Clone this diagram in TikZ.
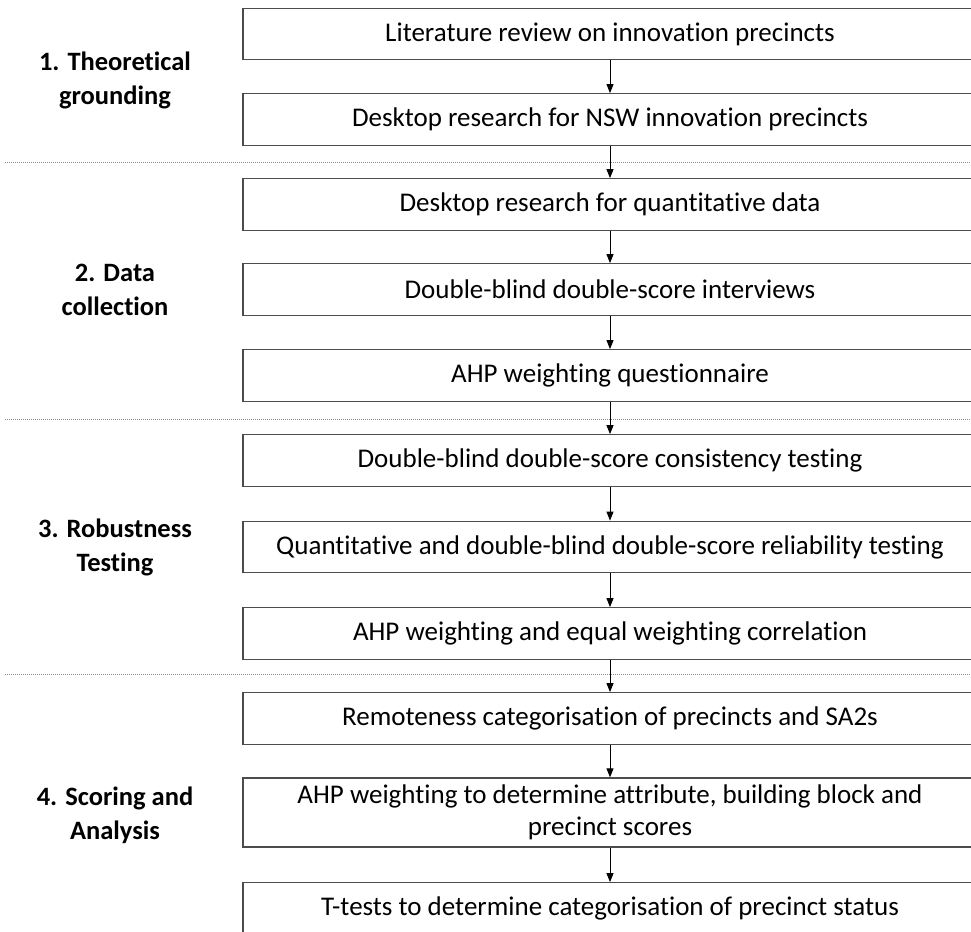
\documentclass[tikz,border=0pt]{standalone}
\usepackage{fontspec}
\setmainfont{Carlito}[Ligatures=NoCommon]
\usetikzlibrary{arrows.meta}
\begin{document}
\begin{tikzpicture}[x=1pt,y=-1pt,
  stepbox/.style={draw=black!70,line width=1.3pt,minimum width=734pt,minimum height=51.5pt,inner sep=0pt,align=center,font=\fontsize{27}{32}\selectfont},
  phase/.style={align=center,font=\fontsize{26.5}{34}\selectfont\bfseries},
  sep/.style={draw=black!45,line width=0.8pt,dash pattern=on 1.2pt off 0.8pt},
  flow/.style={draw=black,line width=0.9pt,-{Triangle[length=9pt,width=7pt]}}]
\useasboundingbox (0,0) rectangle (971,931);
\clip (0,0) rectangle (971,931);
\fill[white] (0,0) rectangle (971,931);
\node[stepbox] (b1) at (610,34) {Literature review on innovation precincts};
\node[stepbox] (b2) at (610,119.5) {Desktop research for NSW innovation precincts};
\node[stepbox] (b3) at (610,204.5) {Desktop research for quantitative data};
\node[stepbox] (b4) at (610,289.5) {Double-blind double-score interviews};
\node[stepbox] (b5) at (610,375.5) {AHP weighting questionnaire};
\node[stepbox] (b6) at (610,460.5) {Double-blind double-score consistency testing};
\node[stepbox] (b7) at (610,547) {Quantitative and double-blind double-score reliability testing};
\node[stepbox] (b8) at (610,633.5) {AHP weighting and equal weighting correlation};
\node[stepbox] (b9) at (610,718.5) {Remoteness categorisation of precincts and SA2s};
\node[stepbox,minimum height=69pt] (b10) at (610,812.5) {AHP weighting to determine attribute, building block and\\precinct scores};
\node[stepbox] (b11) at (610,908.5) {T-tests to determine categorisation of precinct status};
\node[phase] (p1) at (115,80) {1. Theoretical\\grounding};
\node[phase] (p2) at (115,290) {2. Data\\collection};
\node[phase] (p3) at (115,547) {3. Robustness\\Testing};
\node[phase] (p4) at (115,815) {4. Scoring and\\Analysis};
\coordinate (s1a) at (5,162); \coordinate (s1b) at (971,162);
\coordinate (s2a) at (5,419); \coordinate (s2b) at (971,419);
\coordinate (s3a) at (5,674); \coordinate (s3b) at (971,674);
\draw[sep] (s1a) -- (s1b);
\draw[sep] (s2a) -- (s2b);
\draw[sep] (s3a) -- (s3b);
\foreach \a/\b in {b1/b2,b2/b3,b3/b4,b4/b5,b5/b6,b6/b7,b7/b8,b8/b9,b9/b10,b10/b11}
  \draw[flow] (\a.south) -- (\b.north);
\end{tikzpicture}
\end{document}
